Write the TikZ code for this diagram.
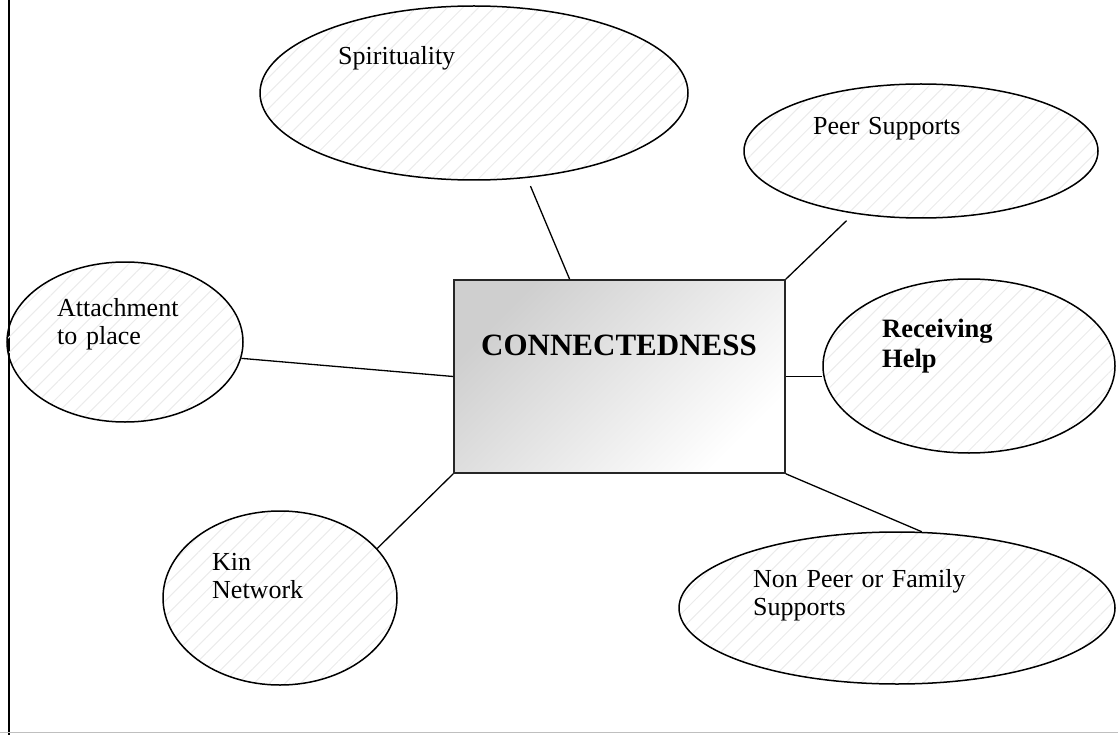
\documentclass[tikz,border=0pt]{standalone}
\usepackage{fontspec}
\setmainfont{Liberation Serif}
\usetikzlibrary{shapes.geometric,patterns.meta,calc}

\tikzset{
  bubble/.style={ellipse, draw=black, line width=1.5pt, inner sep=0pt,
    pattern={Lines[angle=45,distance=11pt,line width=1pt]},
    pattern color=black!8},
  bubbletext/.style={anchor=base west, inner sep=0pt, align=left, text width=8cm,
    font=\fontsize{26}{28}\selectfont},
  boldtext/.style={bubbletext, font=\fontsize{26.5}{30}\selectfont\bfseries},
  link/.style={line width=1.3pt},
  hub/.style={draw=black!85, line width=1.6pt, inner sep=0pt,
    minimum width=331pt, minimum height=193pt,
    top color=black!19, middle color=white, bottom color=white, shading angle=45},
}

\begin{document}
\begin{tikzpicture}[x=1pt,y=-1pt]
  \useasboundingbox (0,0) rectangle (1118,735);

  % page frame: left rule and faint bottom rule
  \coordinate (ftop) at (9,0);
  \coordinate (fbot) at (9,735);
  \coordinate (bl) at (0,732);
  \coordinate (br) at (1118,732);
  \draw[line width=1.6pt] (ftop) -- (fbot);
  \draw[black!25, line width=1pt] (bl) -- (br);

  % surrounding themes
  \node[bubble, minimum width=428pt, minimum height=174pt] (spirit) at (474,93) {};
  \node[bubble, minimum width=354pt, minimum height=134pt] (peer) at (921,151) {};
  \node[bubble, minimum width=236pt, minimum height=160pt] (attach) at (125,342) {};
  \node[bubble, minimum width=292pt, minimum height=174pt] (recv) at (969,366) {};
  \node[bubble, minimum width=234pt, minimum height=174pt] (kin) at (280,598) {};
  \node[bubble, minimum width=436pt, minimum height=152pt] (np) at (897,608) {};

  % central concept
  \node[hub] (box) at (619.5,376.5) {};

  % connectors
  \draw[link, shorten <=9pt] (spirit.-58) -- ($(box.north west)!0.35!(box.north east)$);
  \draw[link, shorten >=10pt] (box.north east) -- (peer.-137);
  \draw[link] (attach.-8) -- (box.west);
  \draw[link] (box.east) -- (recv.west |- box.east);
  \draw[link] (kin.27) -- (box.south west);
  \draw[link] (box.south east) -- (np.72);

  % labels
  \node[bubbletext] (spirit-t) at (338,65) {Spirituality};
  \node[bubbletext] (peer-t) at (813,135) {Peer Supports};
  \node[bubbletext] (attach-t) at (57,316) {Attachment\\to place};
  \node[boldtext] (recv-t) at (882,337) {Receiving\\Help};
  \node[bubbletext] (kin-t) at (212,570) {Kin\\Network};
  \node[bubbletext] (np-t) at (753,587) {Non Peer or Family\\Supports};
  \node[anchor=base, inner sep=0pt, font=\fontsize{31}{36}\selectfont\bfseries]
    (box-t) at (619,355) {CONNECTEDNESS};
\end{tikzpicture}
\end{document}
